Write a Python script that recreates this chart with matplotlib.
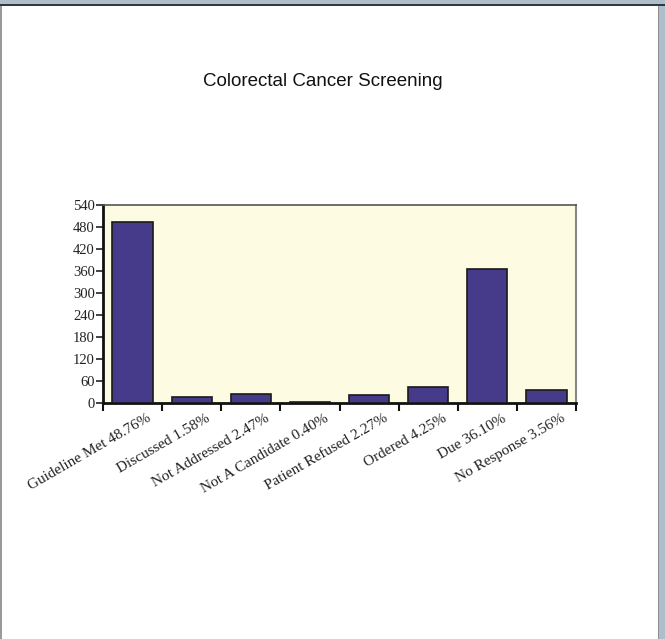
import matplotlib
matplotlib.use('Agg')
import matplotlib.pyplot as plt
from matplotlib.patches import Rectangle
from matplotlib.transforms import ScaledTranslation

categories = ['Guideline Met', 'Discussed', 'Not Addressed', 'Not A Candidate',
              'Patient Refused', 'Ordered', 'Due', 'No Response']
percents = ['48.76%', '1.58%', '2.47%', '0.40%', '2.27%', '4.25%', '36.10%', '3.56%']
counts = [494, 16, 25, 4, 23, 43, 366, 36]
yticks = list(range(0, 541, 60))

W, H = 665, 639
fig = plt.figure(figsize=(W / 100, H / 100), dpi=100)
fig.patch.set_facecolor('white')

# window-like frame around the picture
fig.add_artist(Rectangle((0, 1 - 4 / H), 1, 4 / H, transform=fig.transFigure,
                         facecolor='#aebfcb', edgecolor='none'))
fig.add_artist(Rectangle((0, 1 - 6 / H), 1, 2 / H, transform=fig.transFigure,
                         facecolor='#34393c', edgecolor='none'))
fig.add_artist(Rectangle((1 - 6 / W, 0), 6 / W, 1 - 6 / H, transform=fig.transFigure,
                         facecolor='#aebfcb', edgecolor='none'))
fig.add_artist(Rectangle((1 - 7 / W, 0), 1 / W, 1 - 6 / H, transform=fig.transFigure,
                         facecolor='#8e8e8e', edgecolor='none'))
fig.add_artist(Rectangle((0, 0), 1.5 / W, 1 - 6 / H, transform=fig.transFigure,
                         facecolor='#9a9a9a', edgecolor='none'))

ax = fig.add_axes([103 / W, 1 - 403 / H, (576 - 103) / W, (403 - 205) / H])
ax.set_facecolor('#fdfbe2')

x = list(range(len(categories)))
ax.bar(x, counts, width=0.68, color='#463a8a', edgecolor='#1a1a1a', linewidth=1.2, zorder=3)

ax.set_xlim(-0.5, len(categories) - 0.5)
ax.set_ylim(0, 540)

ax.set_yticks(yticks)
ax.set_yticklabels([str(v) for v in yticks], family='Liberation Serif', fontsize=10.5)
ax.tick_params(axis='y', direction='out', length=5, width=1.2, pad=1, color='#222222',
               labelcolor='#222222')

# boundary ticks on the category axis
ax.set_xticks([i - 0.5 for i in range(len(categories) + 1)])
ax.set_xticklabels([])
ax.tick_params(axis='x', direction='out', length=6, width=1.5, color='#111111')

labels = [c + ' ' + p for c, p in zip(categories, percents)]
off = ScaledTranslation(21 / 100, -9 / 100, fig.dpi_scale_trans)
for i, lab in enumerate(labels):
    ax.text(i, 0, lab, rotation=30, ha='right', va='top', family='Liberation Serif',
            fontsize=11, color='#222222', transform=ax.transData + off, clip_on=False)

for s in ['left', 'bottom']:
    ax.spines[s].set_color('#111111')
    ax.spines[s].set_linewidth(2)
ax.spines['top'].set_color('#555555')
ax.spines['top'].set_linewidth(1.2)
ax.spines['right'].set_color('#888888')
ax.spines['right'].set_linewidth(1.5)

fig.text(323 / W, 1 - 81 / H, 'Colorectal Cancer Screening', ha='center', va='center',
         family='Liberation Sans', fontsize=13.5, color='#111111')

plt.savefig('out.png', dpi=100)
